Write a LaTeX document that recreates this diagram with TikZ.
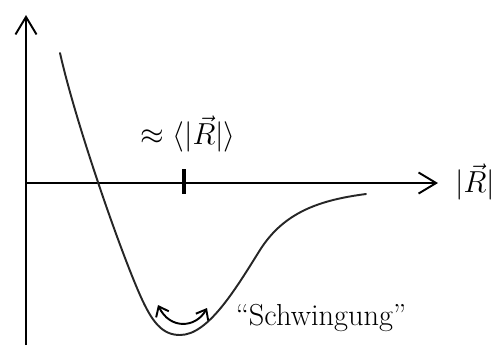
\documentclass[tikz,border=0pt]{standalone}
\usetikzlibrary{arrows.meta}
\begin{document}
\begin{tikzpicture}[x=0.02cm,y=-0.02cm,
  axisline/.style={line width=1.1pt,-{Straight Barb[length=10pt,width=12pt,line width=1.1pt]}},
  curveline/.style={line width=1.1pt,black!85,line cap=round,line join=round},
  vibarrow/.style={line width=1.1pt,{Straight Barb[length=5pt,width=8pt]}-{Straight Barb[length=5pt,width=8pt]}},
  lbl/.style={inner sep=0pt,font=\LARGE}]
\useasboundingbox (0,0) rectangle (501,360);
% axes
\coordinate (ybot) at (26,345);
\coordinate (ytop) at (26,15);
\coordinate (xl) at (26,183);
\coordinate (xr) at (438,183);
\draw[axisline] (ybot) -- (ytop);
\draw[axisline] (xl) -- (xr);
\node[lbl] (rlabel) at (475,182) {$|\vec{R}|$};
% tick
\coordinate (tickt) at (184,169);
\coordinate (tickb) at (184,194);
\draw[line width=1.8pt] (tickt) -- (tickb);
\node[lbl] (meanlabel) at (188,134) {$\approx\langle|\vec{R}|\rangle$};
% potential curve
\coordinate (c0) at (60,53);
\coordinate (ca) at (140,295);
\coordinate (c1) at (180,335);
\coordinate (c2) at (260,250);
\coordinate (c3) at (366,194);
\draw[curveline] (c0) .. controls (75,120) and (118,245) .. (ca)
  .. controls (152,322) and (162,335) .. (c1)
  .. controls (208,335) and (235,290) .. (c2)
  .. controls (284,212) and (320,200) .. (c3);
% oscillation arrow
\coordinate (al) at (158,305);
\coordinate (ar) at (207,308);
\draw[vibarrow] (al) .. controls (170,330) and (196,328) .. (ar);
\node[lbl] (osc) at (321,318) {``Schwingung''};
\end{tikzpicture}
\end{document}
